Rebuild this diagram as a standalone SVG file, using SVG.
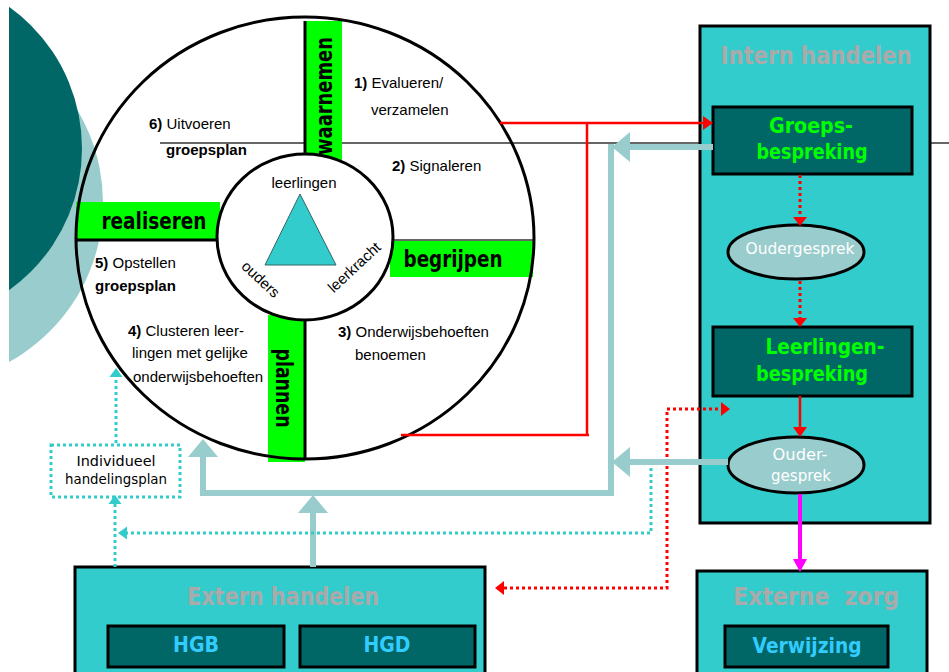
<svg xmlns="http://www.w3.org/2000/svg" width="949" height="672" viewBox="0 0 949 672">
<style>
.ar{font-family:"Liberation Sans",Arial,sans-serif;font-size:15px;fill:#000}
.b{font-weight:bold}
.cm{font-family:"Comic Sans MS","DejaVu Sans",sans-serif;font-weight:bold}
.bar{font-size:23px;fill:#000}
.ttl{font-size:24px;fill:#AAAAAA}
.grn{font-size:21px;fill:#00FF00}
.blu{font-size:21px;fill:#33CCFF}
.wht{font-family:"Comic Sans MS","DejaVu Sans",sans-serif;font-size:15px;fill:#FFFFFF}
.box{fill:#33CCCC;stroke:#000;stroke-width:3}
.dk{fill:#006666;stroke:#000;stroke-width:3}
.ell{fill:#99CCCC;stroke:#000;stroke-width:3}
.gb{fill:#00FF00}
.red{fill:none;stroke:#FF0000;stroke-width:2.5}
.redd{fill:none;stroke:#FF0000;stroke-width:3;stroke-dasharray:3 3}
.teal{fill:none;stroke:#99CCCC;stroke-width:6}
.cyd{fill:none;stroke:#33CCCC;stroke-width:3;stroke-dasharray:3 3}
.mag{fill:none;stroke:#FF00FF;stroke-width:4}
</style>
<defs>
<clipPath id="clipL"><rect x="9" y="0" width="940" height="672"/></clipPath>
<marker id="aRed" markerUnits="userSpaceOnUse" markerWidth="10" markerHeight="14" viewBox="0 0 10 14" refX="0" refY="7" orient="auto" overflow="visible"><path d="M0,0 L10,7 L0,14 z" fill="#FF0000"/></marker>
<marker id="aRedD" markerUnits="userSpaceOnUse" markerWidth="9" markerHeight="14" viewBox="0 0 9 14" refX="0" refY="7" orient="auto-start-reverse" overflow="visible"><path d="M0,0 L9,7 L0,14 z" fill="#FF0000"/></marker>
<marker id="aTeal" markerUnits="userSpaceOnUse" markerWidth="18" markerHeight="30" viewBox="0 0 18 30" refX="0" refY="15" orient="auto" overflow="visible"><path d="M0,0 L18,15 L0,30 z" fill="#99CCCC"/></marker>
<marker id="aCy" markerUnits="userSpaceOnUse" markerWidth="9" markerHeight="13" viewBox="0 0 9 13" refX="0" refY="6.5" orient="auto" overflow="visible"><path d="M0,0 L9,6.5 L0,13 z" fill="#33CCCC"/></marker>
<marker id="aMag" markerUnits="userSpaceOnUse" markerWidth="13" markerHeight="14" viewBox="0 0 13 14" refX="0" refY="7" orient="auto" overflow="visible"><path d="M0,0 L13,7 L0,14 z" fill="#FF00FF"/></marker>
</defs>
<rect width="949" height="672" fill="#FFFFFF"/>
<g id="background" clip-path="url(#clipL)">
<circle cx="-78.5" cy="203" r="181.5" fill="#99CCCC"/>
<circle cx="-92" cy="148.5" r="174" fill="#006666"/>
</g>
<line x1="160" y1="143" x2="949" y2="143" stroke="#333333" stroke-width="1.5"/>
<g id="cycle">
<rect class="gb" x="306" y="21" width="36" height="140"/>
<rect class="gb" x="76" y="202" width="144" height="37"/>
<rect class="gb" x="390" y="241" width="143" height="36"/>
<rect class="gb" x="268" y="315" width="37" height="147"/>
<line x1="305" y1="21" x2="305" y2="156" stroke="#000" stroke-width="3"/>
<line x1="77" y1="240" x2="220" y2="240" stroke="#000" stroke-width="3"/>
<line x1="390" y1="240" x2="534" y2="240" stroke="#333" stroke-width="1.5"/>
<line x1="305" y1="318" x2="305" y2="460" stroke="#000" stroke-width="3"/>
<ellipse cx="305" cy="238" rx="229" ry="221" fill="none" stroke="#000" stroke-width="3"/>
<ellipse cx="305" cy="237" rx="88" ry="83" fill="#FFFFFF" stroke="#000" stroke-width="3"/>
<polygon points="300,194 265,265 336,265" fill="#33CCCC" stroke="#336666" stroke-width="1"/>
<text class="ar" x="304" y="188" text-anchor="middle" font-size="16">leerlingen</text>
<text class="ar" text-anchor="middle" dominant-baseline="central" font-size="16" transform="translate(261,279) rotate(43)">ouders</text>
<text class="ar" text-anchor="middle" dominant-baseline="central" font-size="16" transform="translate(354,267) rotate(-43)">leerkracht</text>
<text class="cm bar" text-anchor="middle" dominant-baseline="central" textLength="118" lengthAdjust="spacingAndGlyphs" transform="translate(324,96) rotate(-90)">waarnemen</text>
<text class="cm bar" x="154" y="229" text-anchor="middle" textLength="105" lengthAdjust="spacingAndGlyphs">realiseren</text>
<text class="cm bar" x="453" y="267" text-anchor="middle" textLength="99" lengthAdjust="spacingAndGlyphs">begrijpen</text>
<text class="cm bar" text-anchor="middle" dominant-baseline="central" textLength="79" lengthAdjust="spacingAndGlyphs" transform="translate(284,388) rotate(90)">plannen</text>
<text class="ar" x="354" y="88"><tspan class="b">1)</tspan> Evalueren/</text>
<text class="ar" x="371" y="115">verzamelen</text>
<text class="ar" x="149" y="129"><tspan class="b">6)</tspan> Uitvoeren</text>
<text class="ar b" x="166" y="155">groepsplan</text>
<text class="ar" x="392" y="171"><tspan class="b">2)</tspan> Signaleren</text>
<text class="ar" x="95" y="268"><tspan class="b">5)</tspan> Opstellen</text>
<text class="ar b" x="95" y="291">groepsplan</text>
<text class="ar" x="128" y="336"><tspan class="b">4)</tspan> Clusteren leer-</text>
<text class="ar" x="132" y="358">lingen met gelijke</text>
<text class="ar" x="133" y="382">onderwijsbehoeften</text>
<text class="ar" x="338" y="337"><tspan class="b">3)</tspan> Onderwijsbehoeften</text>
<text class="ar" x="355" y="360">benoemen</text>
</g>
<g id="intern-handelen">
<rect class="box" x="700" y="26" width="230" height="497"/>
<text class="cm ttl" x="816" y="64" text-anchor="middle" textLength="191" lengthAdjust="spacingAndGlyphs">Intern handelen</text>
</g>
<g id="groepsbespreking">
<rect class="dk" x="713" y="107" width="199" height="67"/>
<text class="cm grn" x="811" y="133" text-anchor="middle" textLength="84" lengthAdjust="spacingAndGlyphs">Groeps-</text>
<text class="cm grn" x="812" y="159" text-anchor="middle" textLength="111" lengthAdjust="spacingAndGlyphs">bespreking</text>
</g>
<g id="oudergesprek-1">
<ellipse class="ell" cx="796" cy="252" rx="68" ry="27"/>
<text class="wht" x="800" y="254" text-anchor="middle" textLength="109" lengthAdjust="spacingAndGlyphs">Oudergesprek</text>
</g>
<g id="leerlingenbespreking">
<rect class="dk" x="713" y="327" width="199" height="69"/>
<text class="cm grn" x="825" y="354" text-anchor="middle" textLength="119" lengthAdjust="spacingAndGlyphs">Leerlingen-</text>
<text class="cm grn" x="812" y="381" text-anchor="middle" textLength="112" lengthAdjust="spacingAndGlyphs">bespreking</text>
</g>
<g id="oudergesprek-2">
<ellipse class="ell" cx="796" cy="465" rx="68" ry="28"/>
<text class="wht" x="800" y="460" text-anchor="middle" textLength="55" lengthAdjust="spacingAndGlyphs">Ouder-</text>
<text class="wht" x="801" y="481" text-anchor="middle" textLength="60" lengthAdjust="spacingAndGlyphs">gesprek</text>
</g>
<g id="externe-zorg">
<rect class="box" x="697" y="571" width="230" height="120" stroke-width="2.5"/>
<text class="cm ttl" x="816" y="605" text-anchor="middle" textLength="166" lengthAdjust="spacingAndGlyphs" xml:space="preserve">Externe  zorg</text>
</g>
<g id="verwijzing">
<rect class="dk" x="725" y="626" width="163" height="41"/>
<text class="cm blu" x="807" y="653" text-anchor="middle" textLength="109" lengthAdjust="spacingAndGlyphs">Verwijzing</text>
</g>
<g id="extern-handelen">
<rect class="box" x="75" y="567" width="410" height="120"/>
<text class="cm ttl" x="283" y="605" text-anchor="middle" textLength="192" lengthAdjust="spacingAndGlyphs">Extern handelen</text>
</g>
<g id="hgb">
<rect class="dk" x="108" y="626" width="176" height="41"/>
<text class="cm blu" x="196" y="652" text-anchor="middle" font-weight="normal" textLength="46" lengthAdjust="spacingAndGlyphs">HGB</text>
</g>
<g id="hgd">
<rect class="dk" x="300" y="626" width="175" height="41"/>
<text class="cm blu" x="387" y="652" text-anchor="middle" font-weight="normal" textLength="47" lengthAdjust="spacingAndGlyphs">HGD</text>
</g>
<g id="individueel-handelingsplan">
<rect x="51" y="445" width="129" height="52" fill="#FFFFFF" stroke="#33CCCC" stroke-width="3" stroke-dasharray="3 3"/>
<text x="116" y="466" text-anchor="middle" font-family="'Comic Sans MS','DejaVu Sans',sans-serif" font-size="14" fill="#000" textLength="79" lengthAdjust="spacingAndGlyphs">Individueel</text>
<text x="116" y="484" text-anchor="middle" font-family="'Comic Sans MS','DejaVu Sans',sans-serif" font-size="14" fill="#000" textLength="102" lengthAdjust="spacingAndGlyphs">handelingsplan</text>
</g>
<g id="connectors">
<path class="red" d="M500,123 H703" marker-end="url(#aRed)"/>
<path class="red" d="M587,123 V436"/>
<path class="red" d="M401,435 H589"/>
<path class="redd" d="M800,175 V217" marker-end="url(#aRedD)"/>
<path class="redd" d="M800,281 V318" marker-end="url(#aRedD)"/>
<path class="red" d="M800,396 V427" marker-end="url(#aRed)"/>
<path class="redd" d="M504,588 H667 V409 H721" marker-start="url(#aRedD)" marker-end="url(#aRedD)"/>
<path class="teal" d="M713,147 H630" marker-end="url(#aTeal)"/>
<path class="teal" d="M611,144 V493 H203 V457" marker-end="url(#aTeal)"/>
<path class="teal" d="M728,462 H630" marker-end="url(#aTeal)"/>
<path class="teal" d="M313,567 V513" marker-end="url(#aTeal)"/>
<path class="cyd" d="M115,567 V504" marker-end="url(#aCy)"/>
<path class="cyd" d="M651,468 V533 H127" marker-end="url(#aCy)"/>
<path class="cyd" d="M116,443 V377" marker-end="url(#aCy)"/>
<path class="mag" d="M800,494 V559" marker-end="url(#aMag)"/>
</g>
</svg>
